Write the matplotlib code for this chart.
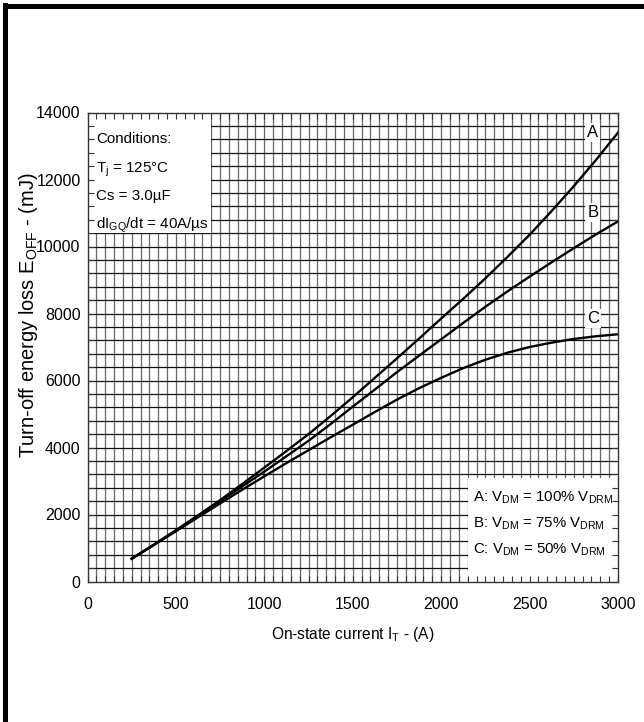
import numpy as np
import matplotlib.pyplot as plt
from matplotlib.patches import Rectangle

plt.rcParams['font.family'] = ['Liberation Sans', 'DejaVu Sans']
plt.rcParams['mathtext.fontset'] = 'custom'
plt.rcParams['mathtext.rm'] = 'Liberation Sans'

# On-state current (A)
current = [250, 375, 500, 625, 750, 875, 1000, 1125, 1250, 1375, 1500, 1625,
           1750, 1875, 2000, 2125, 2250, 2375, 2500, 2625, 2750, 2875, 3000]

# Turn-off energy loss (mJ)
e_off_a = [680, 1100, 1530, 1975, 2430, 2910, 3400, 3895, 4400, 4940, 5500, 6080,
           6660, 7250, 7850, 8440, 9050, 9690, 10350, 11060, 11800, 12580, 13400]
e_off_b = [680, 1095, 1520, 1960, 2400, 2840, 3280, 3740, 4200, 4700, 5220, 5730,
           6250, 6740, 7230, 7720, 8200, 8660, 9100, 9530, 9950, 10360, 10750]
e_off_c = [680, 1090, 1500, 1915, 2330, 2740, 3140, 3535, 3920, 4305, 4680, 5060,
           5430, 5770, 6080, 6370, 6620, 6830, 7000, 7130, 7240, 7320, 7380]

curve_names = ['A', 'B', 'C']
legend_lines = [r'A: V$_\mathrm{DM}$ = 100% V$_\mathrm{DRM}$',
                r'B: V$_\mathrm{DM}$ = 75% V$_\mathrm{DRM}$',
                r'C: V$_\mathrm{DM}$ = 50% V$_\mathrm{DRM}$']
conditions = ['Conditions:',
              r'T$_\mathrm{j}$ = 125°C',
              'Cs = 3.0µF',
              r'dI$_\mathrm{GQ}$/dt = 40A/µs']

W, H = 644, 722
fig = plt.figure(figsize=(W / 100, H / 100), dpi=100)
ax = fig.add_axes([87.5 / W, 1 - 581.5 / H, (618 - 87.5) / W, (581.5 - 112.5) / H])

ax.set_xlim(0, 3000)
ax.set_ylim(0, 14000)

# the chart paper
ax.vlines(np.arange(50, 3000, 50), 0, 14000, color='#666666', lw=0.9, zorder=0.5)
ax.hlines(np.arange(400, 14000, 400), 0, 3000, color='#111111', lw=0.9, zorder=0.5)

# white panels for conditions and legend
ax.add_patch(Rectangle((0, 10400), 700, 3600, facecolor='white', edgecolor='none', zorder=1))
ax.add_patch(Rectangle((2150, 0), 850, 3100, facecolor='white', edgecolor='none', zorder=1))

for e in [e_off_a, e_off_b, e_off_c]:
    ax.plot(current, e, color='black', lw=1.7, zorder=2)

label_pos = [(2857, 13390), (2857, 11010), (2860, 7860)]
for name, (x, y) in zip(curve_names, label_pos):
    ax.text(x, y, name, fontsize=12, ha='center', va='center', zorder=3,
            bbox=dict(facecolor='white', edgecolor='none', pad=1.5))

for txt, y in zip(conditions, [13090, 12200, 11390, 10540]):
    ax.text(50, y, txt, fontsize=10.9, ha='left', va='baseline', zorder=3)

for txt, y in zip(legend_lines, [2385, 1618, 842]):
    ax.text(2180, y, txt, fontsize=10.8, ha='left', va='baseline', zorder=3)

ax.set_xticks(np.arange(0, 3001, 500))
ax.set_xticks(np.arange(0, 3001, 50), minor=True)
ax.set_yticks(np.arange(0, 14001, 2000))
ax.set_yticks(np.arange(0, 14001, 400), minor=True)
ax.set_axisbelow(False)
ax.tick_params(which='both', direction='in', top=True, right=True, length=4,
               width=0.8, color='#333333', labelsize=11.5)
ax.tick_params(axis='x', pad=11)
ax.tick_params(axis='y', pad=5)
for s in ax.spines.values():
    s.set_linewidth(1.0)
    s.set_color('#333333')

ax.set_xlabel(r'On-state current I$_\mathrm{T}$ - (A)', fontsize=11.2)
ax.xaxis.set_label_coords(0.5, (581.5 - 634) / 469)
ax.xaxis.label.set_va('center')
ax.set_ylabel(r'Turn-off energy loss E$_\mathrm{OFF}$ - (mJ)', fontsize=14.5)
ax.yaxis.set_label_coords((29 - 87.5) / 530.5, (581.5 - 315) / 469)
ax.yaxis.label.set_va('center')

# black frame on the left and top edge of the scan
fig.add_artist(Rectangle((3 / W, 0), 5 / W, 1 - 3 / H, transform=fig.transFigure,
                         facecolor='black', edgecolor='none'))
fig.add_artist(Rectangle((3 / W, 1 - 9 / H), 1, 5 / H, transform=fig.transFigure,
                         facecolor='black', edgecolor='none'))

fig.savefig('out.png', dpi=100)
